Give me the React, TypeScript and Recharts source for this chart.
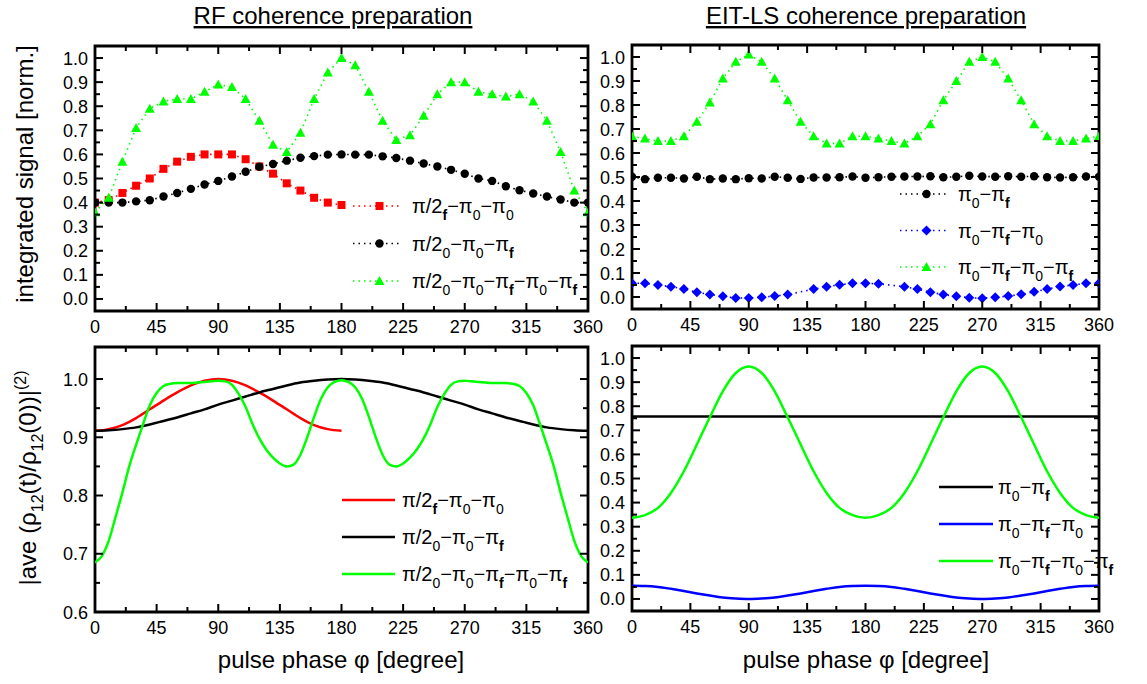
import React from "react";
import { LineChart, Line, XAxis, YAxis, ReferenceArea, Legend } from "recharts";

const W = 1147;
const H = 684;
const FONT = "'Liberation Sans', Arial, Helvetica, sans-serif";
const Y_AXIS_W = 40;
const X_AXIS_H = 30;

// ---- phase grids (degrees) ----
const phase10 = [0, 10, 20, 30, 40, 50, 60, 70, 80, 90, 100, 110, 120, 130, 140, 150, 160, 170, 180,
  190, 200, 210, 220, 230, 240, 250, 260, 270, 280, 290, 300, 310, 320, 330, 340, 350, 360];
const phase5 = [0, 5, 10, 15, 20, 25, 30, 35, 40, 45, 50, 55, 60, 65, 70, 75, 80, 85, 90, 95, 100,
  105, 110, 115, 120, 125, 130, 135, 140, 145, 150, 155, 160, 165, 170, 175, 180, 185, 190, 195, 200,
  205, 210, 215, 220, 225, 230, 235, 240, 245, 250, 255, 260, 265, 270, 275, 280, 285, 290, 295, 300,
  305, 310, 315, 320, 325, 330, 335, 340, 345, 350, 355, 360];
const phaseEnds = [0, 360];

// ---- ticks ----
const phaseTicks = [0, 22.5, 45, 67.5, 90, 112.5, 135, 157.5, 180, 202.5, 225, 247.5, 270, 292.5, 315, 337.5, 360];
const unitTicks = [0, 0.05, 0.1, 0.15, 0.2, 0.25, 0.3, 0.35, 0.4, 0.45, 0.5, 0.55, 0.6, 0.65, 0.7, 0.75, 0.8,
  0.85, 0.9, 0.95, 1.0];
const aveTicks = [0.6, 0.65, 0.7, 0.75, 0.8, 0.85, 0.9, 0.95, 1.0];

// ---- RF coherence preparation: measured signal ----
const rfSigA = [0.40, 0.41, 0.44, 0.47, 0.50, 0.54, 0.57, 0.59, 0.60, 0.60, 0.60, 0.58, 0.55, 0.52, 0.48,
  0.45, 0.42, 0.40, 0.39];
const rfSigB = [0.40, 0.40, 0.40, 0.405, 0.41, 0.425, 0.44, 0.457, 0.475, 0.49, 0.508, 0.528, 0.549, 0.56,
  0.574, 0.586, 0.593, 0.599, 0.60, 0.599, 0.599, 0.592, 0.585, 0.574, 0.562, 0.55, 0.536, 0.52, 0.50,
  0.49, 0.468, 0.451, 0.438, 0.425, 0.413, 0.40, 0.40];
const rfSigC = [0.36, 0.42, 0.57, 0.71, 0.79, 0.82, 0.83, 0.83, 0.86, 0.89, 0.88, 0.83, 0.74, 0.64, 0.61,
  0.69, 0.83, 0.94, 1.0, 0.97, 0.86, 0.74, 0.66, 0.68, 0.76, 0.85, 0.90, 0.90, 0.86, 0.85, 0.84, 0.85,
  0.82, 0.74, 0.61, 0.45, 0.36];

// ---- EIT-LS coherence preparation: measured signal ----
const eitSigA = [0.501, 0.491, 0.497, 0.497, 0.494, 0.501, 0.491, 0.494, 0.491, 0.495, 0.494, 0.501, 0.497,
  0.492, 0.498, 0.498, 0.499, 0.502, 0.497, 0.499, 0.501, 0.502, 0.502, 0.503, 0.499, 0.501, 0.505, 0.502,
  0.501, 0.503, 0.501, 0.503, 0.499, 0.498, 0.499, 0.502, 0.501];
const eitSigB = [0.057, 0.057, 0.050, 0.043, 0.033, 0.020, 0.010, 0.003, -0.004, -0.004, -0.001, 0.004,
  0.010, null, 0.033, 0.043, 0.051, 0.057, 0.057, 0.055, null, 0.043, 0.033, 0.020, 0.010, 0.003, -0.003,
  -0.005, -0.001, 0.004, 0.011, 0.022, 0.033, 0.044, 0.050, 0.057, 0.057];
const eitSigC = [0.67, 0.66, 0.65, 0.65, 0.67, 0.73, 0.81, 0.91, 0.98, 1.01, 0.98, 0.91, 0.82, 0.73, 0.67,
  0.64, 0.64, 0.67, 0.67, 0.66, 0.65, 0.64, 0.67, 0.72, 0.82, 0.90, 0.98, 1.0, 0.98, 0.91, 0.82, 0.72,
  0.67, 0.65, 0.65, 0.66, 0.67];

// ---- RF: averaged coherence ----
const rfAveA = [0.911, 0.914, 0.921, 0.933, 0.948, 0.963, 0.977, 0.989, 0.997, 1.0, 0.997, 0.989, 0.977,
  0.963, 0.948, 0.933, 0.921, 0.914, 0.911];
const rfAveB = [0.911, 0.912, 0.914, 0.917, 0.922, 0.928, 0.934, 0.941, 0.948, 0.956, 0.963, 0.970, 0.977,
  0.983, 0.989, 0.994, 0.997, 0.999, 1.0, 0.999, 0.997, 0.994, 0.989, 0.983, 0.977, 0.970, 0.963, 0.956,
  0.948, 0.941, 0.934, 0.928, 0.922, 0.917, 0.914, 0.912, 0.911];
const rfAveC = [0.685, 0.696, 0.722, 0.763, 0.805, 0.850, 0.887, 0.922, 0.955, 0.976, 0.988, 0.992, 0.993,
  0.993, 0.993, 0.994, 0.995, 0.996, 0.997, 0.996, 0.990, 0.974, 0.952, 0.923, 0.898, 0.879, 0.865, 0.855,
  0.850, 0.853, 0.870, 0.900, 0.935, 0.966, 0.986, 0.995, 0.998, 0.995, 0.986, 0.966, 0.935, 0.900, 0.870,
  0.853, 0.850, 0.855, 0.865, 0.879, 0.898, 0.923, 0.952, 0.974, 0.990, 0.996, 0.997, 0.996, 0.995, 0.994,
  0.993, 0.993, 0.993, 0.992, 0.988, 0.976, 0.955, 0.922, 0.887, 0.850, 0.805, 0.763, 0.722, 0.696, 0.685];

// ---- EIT-LS: averaged coherence ----
const eitAveA = [0.757, 0.757];
const eitAveB = [0.055, 0.054, 0.050, 0.042, 0.033, 0.023, 0.014, 0.006, 0.002, 0.0, 0.002, 0.006, 0.014,
  0.023, 0.033, 0.042, 0.050, 0.054, 0.055, 0.054, 0.050, 0.042, 0.033, 0.023, 0.014, 0.006, 0.002, 0.0,
  0.002, 0.006, 0.014, 0.023, 0.033, 0.042, 0.050, 0.054, 0.055];
const eitAveC = [0.337, 0.348, 0.378, 0.44, 0.53, 0.641, 0.754, 0.862, 0.938, 0.965, 0.938, 0.862, 0.754,
  0.641, 0.53, 0.44, 0.378, 0.348, 0.337, 0.348, 0.378, 0.44, 0.53, 0.641, 0.754, 0.862, 0.938, 0.965,
  0.938, 0.862, 0.754, 0.641, 0.53, 0.44, 0.378, 0.348, 0.337];

// ---- sequence names ----
const rfNames = ["π/2_f−π_0−π_0", "π/2_0−π_0−π_f", "π/2_0−π_0−π_f−π_0−π_f"];
const eitNames = ["π_0−π_f", "π_0−π_f−π_0", "π_0−π_f−π_0−π_f"];

const RED = "#ff0000";
const BLACK = "#000000";
const GREEN = "#00ff00";
const BLUE = "#0000ff";

type Marker = "square" | "circle" | "triangle" | "diamond";
type Series = { key: string; phase: number[]; values: (number | null)[]; color: string; marker?: Marker; name: string };
type Rect = { x0: number; y0: number; x1: number; y1: number };
type PanelDef = {
  plot: Rect;
  yDomain: [number, number];
  yTicks: number[];
  dotted: boolean;
  series: Series[];
  legend: { x0: number; x1: number; textX: number; rows: number[] };
};

const rows = (s: Series) => s.phase.map((p, i) => ({ phase: p, [s.key]: s.values[i] ?? null }));

// ---- rich text: "_x" / "_{..}" subscript, "^{..}" superscript ----
type Seg = { t: string; kind: "n" | "sub" | "sup" };
function parseRich(src: string): Seg[] {
  const out: Seg[] = [];
  let buf = "";
  for (let i = 0; i < src.length; i++) {
    const c = src[i];
    if (c === "_" || c === "^") {
      if (buf) { out.push({ t: buf, kind: "n" }); buf = ""; }
      let t: string;
      if (src[i + 1] === "{") {
        const end = src.indexOf("}", i + 2);
        t = src.slice(i + 2, end);
        i = end;
      } else {
        t = src[i + 1];
        i += 1;
      }
      out.push({ t, kind: c === "_" ? "sub" : "sup" });
    } else buf += c;
  }
  if (buf) out.push({ t: buf, kind: "n" });
  return out;
}

function RichText(props: {
  x: number; y: number; src: string; size: number; small: number; sub: number; sup: number;
  anchor?: "start" | "middle" | "end"; transform?: string;
}) {
  const segs = parseRich(props.src);
  let cur = 0;
  return (
    <text x={props.x} y={props.y} fontFamily={FONT} fontSize={props.size} fill="#000"
      textAnchor={props.anchor ?? "start"} transform={props.transform}>
      {segs.map((s, i) => {
        const target = s.kind === "sub" ? props.sub : s.kind === "sup" ? -props.sup : 0;
        const dy = target - cur;
        cur = target;
        return (
          <tspan key={i} dy={dy} fontSize={s.kind === "n" ? props.size : props.small}
            fontWeight={s.kind !== "n" && s.t === "f" ? "bold" : "normal"}>
            {s.t}
          </tspan>
        );
      })}
    </text>
  );
}

// ---- markers ----
function markerShape(shape: Marker, cx: number, cy: number, color: string, key?: string) {
  switch (shape) {
    case "square":
      return <rect key={key} x={cx - 4} y={cy - 4} width={8} height={8} fill={color} />;
    case "circle":
      return <circle key={key} cx={cx} cy={cy} r={4.2} fill={color} />;
    case "triangle":
      return <polygon key={key} points={`${cx},${cy - 5} ${cx + 5},${cy + 4} ${cx - 5},${cy + 4}`} fill={color} />;
    default:
      return <polygon key={key} points={`${cx},${cy - 5} ${cx + 5},${cy} ${cx},${cy + 5} ${cx - 5},${cy}`} fill={color} />;
  }
}

const dotRenderer = (shape: Marker, color: string) => (p: any) => {
  const key = `m-${p.index}`;
  if (p.cx == null || p.cy == null || !Number.isFinite(p.cy) || p.value == null) return <g key={key} />;
  return markerShape(shape, p.cx, p.cy, color, key);
};

// ---- axis ticks drawn inward on both sides of the frame ----
function PhaseTick(p: any) {
  const { x, payload, plot } = p;
  const v = payload.value as number;
  const major = v % 45 === 0;
  const len = major ? 8 : 5;
  return (
    <g>
      <line x1={x} x2={x} y1={plot.y1} y2={plot.y1 - len} stroke="#000" strokeWidth={2} />
      <line x1={x} x2={x} y1={plot.y0} y2={plot.y0 + len} stroke="#000" strokeWidth={2} />
      {major && (
        <text x={x} y={plot.y1 + 22} textAnchor="middle" fontFamily={FONT} fontSize={18} fill="#000">{v}</text>
      )}
    </g>
  );
}

function ValueTick(p: any) {
  const { y, payload, plot } = p;
  const v = payload.value as number;
  const major = Math.round(v * 100) % 10 === 0;
  const len = major ? 8 : 5;
  return (
    <g>
      <line x1={plot.x0} x2={plot.x0 + len} y1={y} y2={y} stroke="#000" strokeWidth={2} />
      <line x1={plot.x1} x2={plot.x1 - len} y1={y} y2={y} stroke="#000" strokeWidth={2} />
      {major && (
        <text x={plot.x0 - 7} y={y + 6.5} textAnchor="end" fontFamily={FONT} fontSize={18} fill="#000">
          {v.toFixed(1)}
        </text>
      )}
    </g>
  );
}

function LegendBox({ def }: { def: PanelDef }) {
  const lg = def.legend;
  return (
    <svg width={W} height={H} style={{ position: "absolute", left: 0, top: 0, overflow: "visible" }}>
      {def.series.map((s, i) => {
        const y = lg.rows[i];
        const mid = (lg.x0 + lg.x1) / 2;
        return (
          <g key={s.key}>
            <line x1={lg.x0} x2={lg.x1} y1={y} y2={y} stroke={s.color}
              strokeWidth={def.dotted ? 1.6 : 2.5} strokeDasharray={def.dotted ? "1.5 4" : undefined} />
            {s.marker && markerShape(s.marker, mid + 3, y, s.color)}
            <RichText x={lg.textX} y={y + 7} src={s.name} size={20} small={14} sub={7} sup={8} />
          </g>
        );
      })}
    </svg>
  );
}

function Panel({ def }: { def: PanelDef }) {
  const { plot } = def;
  const margin = {
    left: plot.x0 - Y_AXIS_W,
    right: W - plot.x1,
    top: plot.y0,
    bottom: H - plot.y1 - X_AXIS_H,
  };
  return (
    <div style={{ position: "absolute", left: 0, top: 0 }}>
      <LineChart width={W} height={H} margin={margin}>
        <XAxis type="number" dataKey="phase" domain={[0, 360]} ticks={phaseTicks} interval={0}
          allowDataOverflow axisLine={false} tickLine={false} height={X_AXIS_H}
          tick={(p: any) => <PhaseTick {...p} plot={plot} />} />
        <YAxis type="number" domain={def.yDomain} ticks={def.yTicks} interval={0}
          allowDataOverflow axisLine={false} tickLine={false} width={Y_AXIS_W}
          tick={(p: any) => <ValueTick {...p} plot={plot} />} />
        <ReferenceArea x1={0} x2={360} y1={def.yDomain[0]} y2={def.yDomain[1]}
          fill="none" fillOpacity={0} stroke="#000" strokeWidth={2.8} ifOverflow="visible" />
        {def.series.map((s) => (
          <Line key={s.key} data={rows(s)} dataKey={s.key} name={s.name}
            type={def.dotted ? "linear" : "monotone"} stroke={s.color}
            strokeWidth={def.dotted ? 1.6 : 2.5} strokeDasharray={def.dotted ? "1.5 4" : undefined}
            dot={s.marker ? dotRenderer(s.marker, s.color) : false} activeDot={false}
            connectNulls isAnimationActive={false} />
        ))}
        <Legend layout="horizontal" verticalAlign="middle" align="center"
          wrapperStyle={{ left: 0, top: 0, width: W, height: H, pointerEvents: "none" }}
          content={() => <LegendBox def={def} />} />
      </LineChart>
    </div>
  );
}

const panels: PanelDef[] = [
  {
    plot: { x0: 95, y0: 46, x1: 588, y1: 311 },
    yDomain: [-0.05, 1.05],
    yTicks: unitTicks,
    dotted: true,
    series: [
      { key: "a", phase: phase10.slice(0, 19), values: rfSigA, color: RED, marker: "square", name: rfNames[0] },
      { key: "b", phase: phase10, values: rfSigB, color: BLACK, marker: "circle", name: rfNames[1] },
      { key: "c", phase: phase10, values: rfSigC, color: GREEN, marker: "triangle", name: rfNames[2] },
    ],
    legend: { x0: 353, x1: 400, textX: 412, rows: [206, 243.5, 281] },
  },
  {
    plot: { x0: 632, y0: 45, x1: 1099, y1: 309 },
    yDomain: [-0.05, 1.05],
    yTicks: unitTicks,
    dotted: true,
    series: [
      { key: "a", phase: phase10, values: eitSigA, color: BLACK, marker: "circle", name: eitNames[0] },
      { key: "b", phase: phase10, values: eitSigB, color: BLUE, marker: "diamond", name: eitNames[1] },
      { key: "c", phase: phase10, values: eitSigC, color: GREEN, marker: "triangle", name: eitNames[2] },
    ],
    legend: { x0: 900, x1: 947, textX: 958, rows: [194, 230.5, 267] },
  },
  {
    plot: { x0: 95, y0: 347, x1: 588, y1: 612 },
    yDomain: [0.6, 1.055],
    yTicks: aveTicks,
    dotted: false,
    series: [
      { key: "a", phase: phase10.slice(0, 19), values: rfAveA, color: RED, name: rfNames[0] },
      { key: "b", phase: phase10, values: rfAveB, color: BLACK, name: rfNames[1] },
      { key: "c", phase: phase5, values: rfAveC, color: GREEN, name: rfNames[2] },
    ],
    legend: { x0: 342, x1: 395, textX: 402, rows: [500, 537, 574] },
  },
  {
    plot: { x0: 632, y0: 346, x1: 1099, y1: 611 },
    yDomain: [-0.05, 1.05],
    yTicks: unitTicks,
    dotted: false,
    series: [
      { key: "a", phase: phaseEnds, values: eitAveA, color: BLACK, name: eitNames[0] },
      { key: "b", phase: phase10, values: eitAveB, color: BLUE, name: eitNames[1] },
      { key: "c", phase: phase10, values: eitAveC, color: GREEN, name: eitNames[2] },
    ],
    legend: { x0: 939, x1: 993, textX: 998, rows: [487, 524, 561] },
  },
];

export default function App() {
  return (
    <div style={{ position: "absolute", left: 0, top: 0, width: W, height: H, background: "#fff", overflow: "hidden" }}>
      <svg width={W} height={H} style={{ position: "absolute", left: 0, top: 0 }}>
        <text x={333} y={24} textAnchor="middle" fontFamily={FONT} fontSize={24} textDecoration="underline">
          RF coherence preparation
        </text>
        <text x={866} y={24} textAnchor="middle" fontFamily={FONT} fontSize={24} textDecoration="underline">
          EIT-LS coherence preparation
        </text>
        <text x={341} y={668} textAnchor="middle" fontFamily={FONT} fontSize={24}>pulse phase φ [degree]</text>
        <text x={866} y={668} textAnchor="middle" fontFamily={FONT} fontSize={24}>pulse phase φ [degree]</text>
        <text x={33} y={174} transform="rotate(-90 33 174)" textAnchor="middle" fontFamily={FONT} fontSize={24}>
          integrated signal [norm.]
        </text>
        <RichText x={36} y={478} transform="rotate(-90 36 478)" anchor="middle"
          src="|ave (ρ_{12}(t)/ρ_{12}(0))|^{(2)}" size={24} small={16} sub={7} sup={10} />
      </svg>
      {panels.map((d, i) => <Panel key={i} def={d} />)}
    </div>
  );
}
